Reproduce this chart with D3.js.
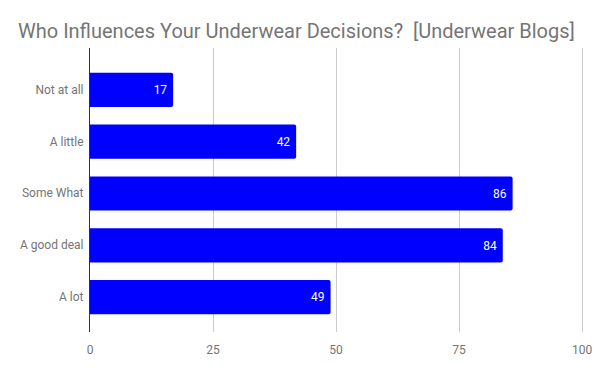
<!DOCTYPE html>
<html><head><meta charset="utf-8">
<script src="https://cdn.jsdelivr.net/npm/d3@7"></script>
<style>body{margin:0;background:#fff;}svg{display:block;font-family:Roboto,sans-serif;}</style>
</head><body>
<svg id="c" width="600" height="371"></svg>
<script>
const categories = ["Not at all", "A little", "Some What", "A good deal", "A lot"];
const values = [17, 42, 86, 84, 49];
const tickValues = [0, 25, 50, 75, 100];
const titleText = "Who Influences Your Underwear Decisions?  [Underwear Blogs]";

const svg = d3.select("#c");
const x = d3.scaleLinear().domain([0, 100]).range([89.5, 581.5]);
const y = d3.scaleBand().domain(categories).range([64, 323]).paddingInner(0.34).paddingOuter(0.17);

svg.append("text").attr("x", 18).attr("y", 38).attr("fill", "#757575")
  .attr("font-size", 20).style("white-space", "pre").text(titleText);

// gridlines
svg.append("g").selectAll("line").data(tickValues.slice(1)).join("line")
  .attr("x1", d => Math.round(x(d)) + 0.5).attr("x2", d => Math.round(x(d)) + 0.5)
  .attr("y1", 48).attr("y2", 332).attr("stroke", "#cccccc").attr("stroke-width", 1);

// x tick labels via axis
const xAxis = svg.append("g").attr("transform", "translate(0,332)")
  .call(d3.axisBottom(x).tickValues(tickValues).tickSize(0).tickPadding(13).tickFormat(d3.format("d")));
xAxis.select(".domain").remove();
xAxis.selectAll("text").attr("fill", "#757575").attr("font-size", 12).attr("font-family", "Roboto,sans-serif");

// bars
svg.append("g").selectAll("path").data(values).join("path")
  .attr("fill", "#0000ff")
  .attr("d", (d, i) => {
    const x0 = x(0), x1 = x(d), y0 = y(categories[i]), h = y.bandwidth(), r = 2;
    return `M${x0},${y0}H${x1 - r}Q${x1},${y0} ${x1},${y0 + r}V${y0 + h - r}Q${x1},${y0 + h} ${x1 - r},${y0 + h}H${x0}Z`;
  });

// value labels
svg.append("g").selectAll("text").data(values).join("text")
  .attr("x", d => x(d) - 6).attr("y", (d, i) => y(categories[i]) + y.bandwidth() / 2)
  .attr("dy", "0.35em").attr("text-anchor", "end").attr("fill", "#ffffff")
  .attr("font-size", 12).text(d => d);

// y axis
const yAxis = svg.append("g").attr("transform", "translate(89.5,0)")
  .call(d3.axisLeft(y).tickSize(0).tickPadding(6));
yAxis.select(".domain").remove();
yAxis.selectAll("text").attr("fill", "#757575").attr("font-size", 12).attr("font-family", "Roboto,sans-serif");
svg.append("line").attr("x1", 89.5).attr("x2", 89.5).attr("y1", 48).attr("y2", 332)
  .attr("stroke", "#333333").attr("stroke-width", 1);
</script>
</body></html>
